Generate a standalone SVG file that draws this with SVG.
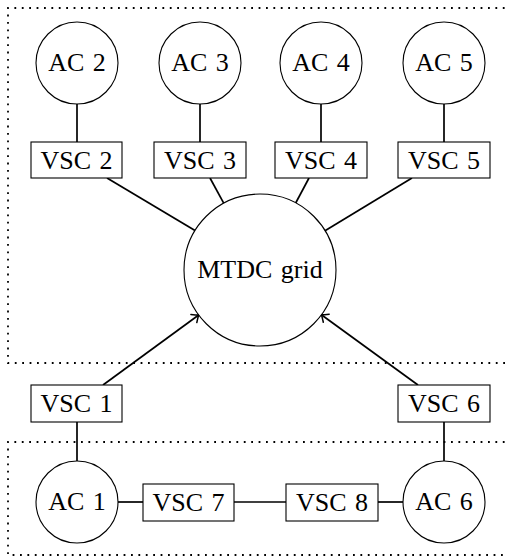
<svg xmlns="http://www.w3.org/2000/svg" width="508" height="557" viewBox="0 0 508 557">
  <style>
    .node { fill: #fff; stroke: #000; stroke-width: 1.1; }
    .lbl { font-family: "Liberation Serif", "Times New Roman", serif; font-size: 26px; word-spacing: 2px; text-anchor: middle; fill: #000; }
    .wire { stroke: #000; stroke-width: 1.7; fill: none; }
    .area { fill: none; stroke: #000; stroke-width: 1.8; stroke-dasharray: 1.8 5.6; }
  </style>
  <defs>
    <marker id="arrow" markerUnits="userSpaceOnUse" markerWidth="14" markerHeight="14" refX="0" refY="0" viewBox="-8 -7 10 14" orient="auto" overflow="visible">
      <path d="M -6,-5 Q -1.5,-1 0,0 Q -1.5,1 -6,5" fill="none" stroke="#000" stroke-width="1.5" stroke-linecap="round"/>
    </marker>
  </defs>

  <!-- dotted areas (open on the right side) -->
  <g id="areas">
    <path class="area" d="M 512,8 H 8 V 363 H 512"/>
    <path class="area" d="M 512,442 H 8 V 555 H 512"/>
  </g>

  <!-- connectors -->
  <g id="connectors">
    <line class="wire" x1="77" y1="104" x2="77" y2="142"/>
    <line class="wire" x1="200" y1="104" x2="200" y2="142"/>
    <line class="wire" x1="321" y1="104" x2="321" y2="142"/>
    <line class="wire" x1="444" y1="104" x2="444" y2="142"/>
    <line class="wire" x1="107" y1="178" x2="195" y2="230.5"/>
    <line class="wire" x1="210" y1="178" x2="223.7" y2="203.2"/>
    <line class="wire" x1="309" y1="178" x2="295.7" y2="203"/>
    <line class="wire" x1="412" y1="178" x2="325" y2="230.7"/>
    <line class="wire" x1="103" y1="385" x2="198.7" y2="315" marker-end="url(#arrow)"/>
    <line class="wire" x1="418" y1="385" x2="321.4" y2="314.7" marker-end="url(#arrow)"/>
    <line class="wire" x1="77" y1="422" x2="77" y2="461"/>
    <line class="wire" x1="444" y1="422" x2="444" y2="461"/>
    <line class="wire" x1="118" y1="502" x2="143" y2="502"/>
    <line class="wire" x1="234" y1="502" x2="286" y2="502"/>
    <line class="wire" x1="378" y1="502" x2="403" y2="502"/>
  </g>

  <!-- AC systems -->
  <g id="ac2"><circle class="node" cx="77" cy="63" r="41"/><text class="lbl" x="77" y="71">AC 2</text></g>
  <g id="ac3"><circle class="node" cx="200" cy="63" r="41"/><text class="lbl" x="200" y="71">AC 3</text></g>
  <g id="ac4"><circle class="node" cx="321" cy="63" r="41"/><text class="lbl" x="321" y="71">AC 4</text></g>
  <g id="ac5"><circle class="node" cx="444" cy="63" r="41"/><text class="lbl" x="444" y="71">AC 5</text></g>
  <g id="ac1"><circle class="node" cx="77" cy="502" r="41"/><text class="lbl" x="77" y="510">AC 1</text></g>
  <g id="ac6"><circle class="node" cx="444" cy="502" r="41"/><text class="lbl" x="444" y="510">AC 6</text></g>

  <!-- converters -->
  <g id="vsc2"><rect class="node" x="31" y="142" width="91" height="36"/><text class="lbl" x="76.5" y="168.5">VSC 2</text></g>
  <g id="vsc3"><rect class="node" x="154" y="142" width="92" height="36"/><text class="lbl" x="200" y="168.5">VSC 3</text></g>
  <g id="vsc4"><rect class="node" x="275" y="142" width="92" height="36"/><text class="lbl" x="321" y="168.5">VSC 4</text></g>
  <g id="vsc5"><rect class="node" x="398" y="142" width="92" height="36"/><text class="lbl" x="444" y="168.5">VSC 5</text></g>
  <g id="vsc1"><rect class="node" x="31" y="385" width="91" height="37"/><text class="lbl" x="76.5" y="412">VSC 1</text></g>
  <g id="vsc6"><rect class="node" x="398" y="385" width="92" height="37"/><text class="lbl" x="444" y="412">VSC 6</text></g>
  <g id="vsc7"><rect class="node" x="143" y="484" width="91" height="37"/><text class="lbl" x="188.5" y="511">VSC 7</text></g>
  <g id="vsc8"><rect class="node" x="286" y="484" width="92" height="37"/><text class="lbl" x="332" y="511">VSC 8</text></g>

  <!-- DC grid -->
  <g id="mtdc"><circle class="node" cx="260" cy="270" r="76"/><text class="lbl" x="260" y="278">MTDC grid</text></g>
</svg>
